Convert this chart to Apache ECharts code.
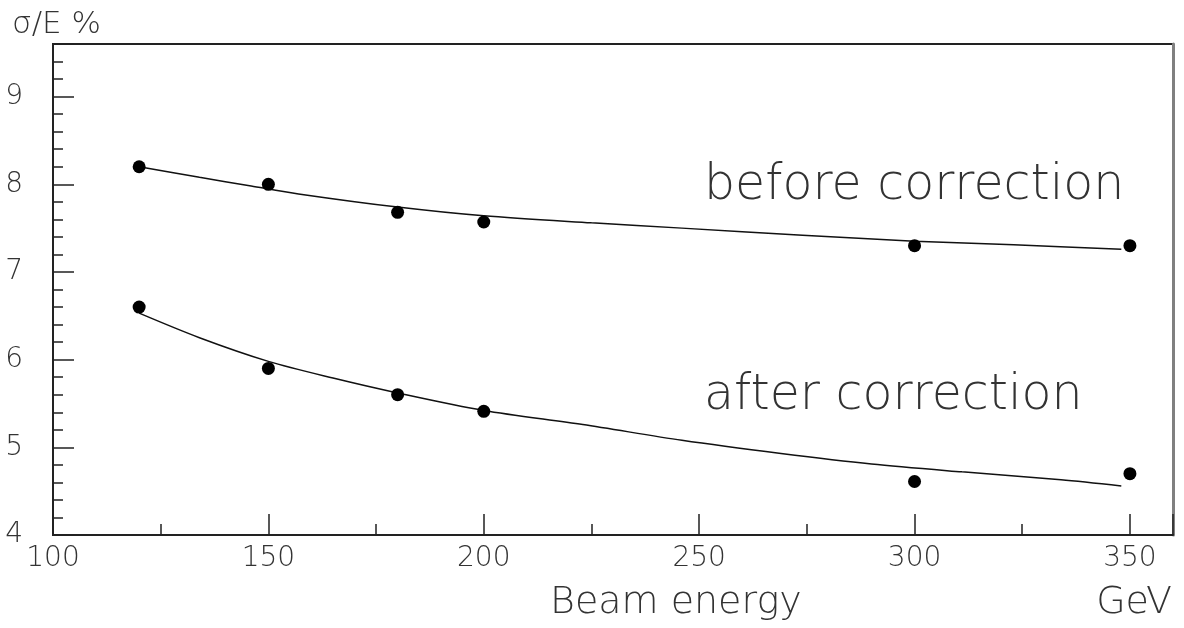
<!DOCTYPE html>
<html>
<head>
<meta charset="utf-8">
<script src="https://cdn.jsdelivr.net/npm/echarts@6/dist/echarts.min.js"></script>
<style>html,body{margin:0;padding:0;background:#fff}#c{width:1184px;height:628px}</style>
</head>
<body>
<div id="c"></div>
<script>
// Measured points (Beam energy GeV, sigma/E %)
const energies = [120, 150, 180, 200, 300, 350];
const beforeValues = [8.2, 8.0, 7.68, 7.57, 7.3, 7.3];
const afterValues = [6.6, 5.9, 5.6, 5.41, 4.61, 4.7];
// Fit curves
const beforeFitE = [120, 134, 146, 157, 180, 200, 225, 246, 274, 300, 323, 348];
const beforeFitV = [8.20, 8.08, 7.98, 7.89, 7.74, 7.64, 7.56, 7.50, 7.42, 7.35, 7.31, 7.26];
const afterFitE = [120, 134, 150, 165, 180, 200, 223, 246, 269, 290, 311, 334, 348];
const afterFitV = [6.53, 6.25, 5.98, 5.79, 5.62, 5.42, 5.26, 5.08, 4.93, 4.81, 4.72, 4.63, 4.56];
const xTicks = [100, 150, 200, 250, 300, 350];
const yTicks = [4, 5, 6, 7, 8, 9];

const zip = (a, b) => a.map((v, i) => [v, b[i]]);
const FONT = "'DejaVu Sans', sans-serif";
const TXT = '#333';

const chart = echarts.init(document.getElementById('c'), null, {renderer: 'canvas'});
chart.setOption({
  animation: false,
  backgroundColor: '#fff',
  grid: {left: 53, top: 44, right: 11, bottom: 93, show: true, borderColor: '#222', borderWidth: 2, backgroundColor: 'transparent'},
  xAxis: [
    {type: 'value', min: 100, max: 360, interval: 50, position: 'bottom',
     axisLine: {show: true, lineStyle: {color: '#222', width: 2}},
     axisTick: {show: true, inside: true, length: 21, lineStyle: {color: '#222', width: 1.5}},
     axisLabel: {show: true, margin: 10, fontSize: 28, fontFamily: FONT, fontWeight: 200, color: TXT,
       formatter: v => xTicks.includes(v) ? String(v) : ''},
     splitLine: {show: false}},
    {type: 'value', min: 100, max: 360, interval: 25, position: 'bottom',
     axisLine: {show: false},
     axisTick: {show: true, inside: true, length: 11, lineStyle: {color: '#222', width: 1.5}},
     axisLabel: {show: false}, splitLine: {show: false}}
  ],
  yAxis: [
    {type: 'value', min: 4, max: 9.6, interval: 1, position: 'left',
     axisLine: {show: true, lineStyle: {color: '#222', width: 2}},
     axisTick: {show: true, inside: true, length: 21, lineStyle: {color: '#222', width: 1.5}},
     axisLabel: {show: true, margin: 30, fontSize: 28, fontFamily: FONT, fontWeight: 200, color: TXT,
       formatter: v => yTicks.includes(v) ? String(v) : ''},
     splitLine: {show: false}},
    {type: 'value', min: 4, max: 9.6, interval: 0.2, position: 'left',
     axisLine: {show: false},
     axisTick: {show: true, inside: true, length: 10, lineStyle: {color: '#222', width: 1.5}},
     axisLabel: {show: false}, splitLine: {show: false}},
    {type: 'value', min: 4, max: 9.6, position: 'right',
     axisLine: {show: true, lineStyle: {color: '#808080', width: 3}},
     axisTick: {show: false}, axisLabel: {show: false}, splitLine: {show: false}}
  ],
  series: [
    {name: 'before fit', type: 'line', data: zip(beforeFitE, beforeFitV), showSymbol: false, smooth: 0.3,
     lineStyle: {color: '#111', width: 1.5}, z: 2},
    {name: 'after fit', type: 'line', data: zip(afterFitE, afterFitV), showSymbol: false, smooth: 0.3,
     lineStyle: {color: '#111', width: 1.5}, z: 2},
    {name: 'before correction', type: 'scatter', data: zip(energies, beforeValues), symbol: 'circle', symbolSize: 13,
     itemStyle: {color: '#000', opacity: 1}, z: 3},
    {name: 'after correction', type: 'scatter', data: zip(energies, afterValues), symbol: 'circle', symbolSize: 13,
     itemStyle: {color: '#000', opacity: 1}, z: 3}
  ],
  graphic: [
    {type: 'text', z: 10, style: {x: 12, y: 25, text: 'σ/E %', font: `200 31px ${FONT}`, fill: TXT, textVerticalAlign: 'middle'}},
    {type: 'text', z: 10, style: {x: 704, y: 186, text: 'before correction', font: `200 49px ${FONT}`, fill: TXT, textVerticalAlign: 'middle'}},
    {type: 'text', z: 10, style: {x: 704, y: 396, text: 'after correction', font: `200 49px ${FONT}`, fill: TXT, textVerticalAlign: 'middle'}},
    {type: 'text', z: 10, style: {x: 550, y: 603, text: 'Beam energy', font: `200 38px ${FONT}`, fill: TXT, textVerticalAlign: 'middle'}},
    {type: 'text', z: 10, style: {x: 1172, y: 603, text: 'GeV', font: `200 38px ${FONT}`, fill: TXT, textAlign: 'right', textVerticalAlign: 'middle'}}
  ]
});
</script>
</body>
</html>
